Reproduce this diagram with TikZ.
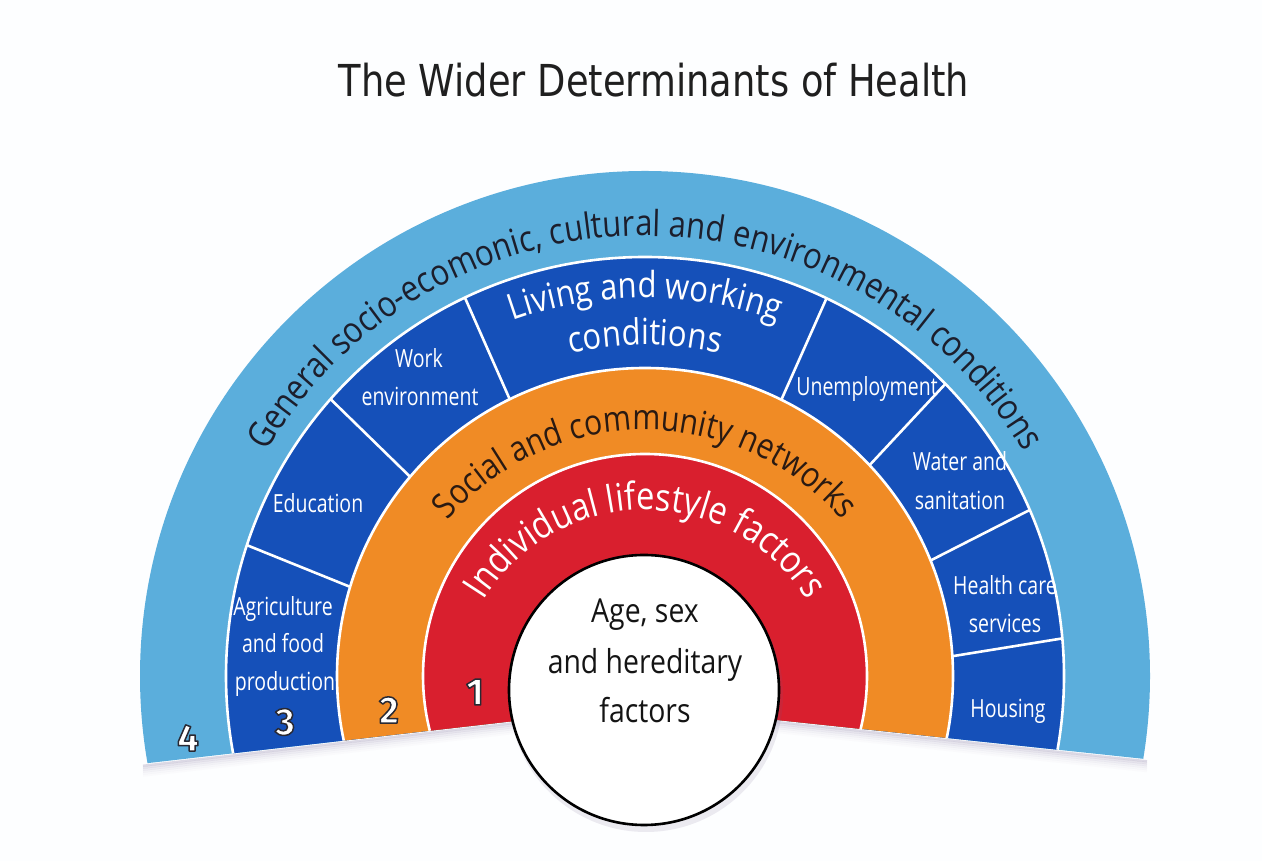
\documentclass[tikz,border=0pt]{standalone}
\usepackage{fontspec}
\setmainfont{Open Sans}
\newfontfamily\hfont[FakeStretch=0.86]{Open Sans}
\newfontfamily\cfont[FakeStretch=0.78]{Open Sans}
\newfontfamily\tfont{DejaVu Sans}
\newfontfamily\nfont{Fira Sans}
\usetikzlibrary{decorations.text}
\definecolor{bgc}{HTML}{FDFEFF}
\definecolor{lblue}{HTML}{5BAEDC}
\definecolor{dblue}{HTML}{1550B9}
\definecolor{orng}{HTML}{F08B25}
\definecolor{rd}{HTML}{D91F2E}
\definecolor{shadowc}{HTML}{6A5A8A}
\definecolor{darktext}{HTML}{1C1E2C}
\definecolor{browntext}{HTML}{2A1A12}
\tikzset{
  sep/.style={white, line width=2.6pt},
  seglabel/.style={text=white, font=\cfont\fontsize{25}{30}\selectfont, anchor=base, inner sep=0pt},
  corelabel/.style={text=black!92, font=\hfont\fontsize{33}{40}\selectfont, anchor=base, inner sep=0pt},
  numsty/.style={font=\nfont\bfseries\fontsize{38}{42}\selectfont, inner sep=0pt, text=white},
}
% white digit with a thin dark outline (fill, then stroke)
\newcommand{\outl}[1]{\special{pdf:literal direct q 2 Tr 1.5 w 1 j 0.16 0.16 0.2 RG}#1\special{pdf:literal direct Q}}
\begin{document}
\begin{tikzpicture}[x=1pt,y=1pt]
\fill[bgc] (0,0) rectangle (1262,861);
\useasboundingbox (0,0) rectangle (1262,861);

\node[font=\tfont\fontsize{44}{50}\selectfont, text=black!88, anchor=base, inner sep=0pt] (title) at (654,764)
  {\scalebox{0.837}[1]{The Wider Determinants of Health}};

\coordinate (C) at (645,185);
\coordinate (D) at (645,155);
\coordinate (BL) at (143,97.3);
\coordinate (BR) at (1147,101.8);
\coordinate (E) at (645,171);
\coordinate (F) at (645,161);
\coordinate (O) at (644,171);

% soft shadow under the bands
\foreach \s/\o in {2/0.22,4/0.16,6/0.11,8/0.07,10/0.04,12/0.02}
  \draw[line width=2.2pt, shadowc, opacity=\o] ([yshift=-\s pt]BL) -- ([yshift=-\s pt]D) -- ([yshift=-\s pt]BR);

\begin{scope}
  \clip (0,80.9) -- (D) -- (1262,89.6) -- (1262,861) -- (0,861) -- cycle;
  \fill[lblue] (C) circle (505pt);
  \fill[dblue] (C) circle (419pt);
  \begin{scope}
    \clip (C) circle (419pt);
    \foreach \a in {158,135.7,113.8,66,47,27,9.2}
      \draw[sep] (D) -- ++(\a:600pt);
  \end{scope}
  \fill[orng] (C) circle (308pt);
  \fill[rd] (C) circle (222pt);
  \draw[sep] (C) circle (419pt) (C) circle (308pt) (C) circle (222pt);
\end{scope}

% curved texts
\path[decorate, decoration={text along path, text align=center, text color=darktext,
  text={|\hfont\fontsize{36}{42}\selectfont|General socio-ecomonic, cultural and environmental conditions}}]
  ([shift={(178:440pt)}]C) arc[start angle=178, end angle=2, radius=440pt];
\path[decorate, decoration={text along path, text align=center, text color=white,
  text={|\hfont\fontsize{36}{42}\selectfont|Living and working}}]
  ([shift={(150:392pt)}]E) arc[start angle=150, end angle=30, radius=392pt];
\path[decorate, decoration={text along path, text align=center, text color=white,
  text={|\hfont\fontsize{36}{42}\selectfont|conditions}}]
  ([shift={(150:345pt)}]E) arc[start angle=150, end angle=30, radius=345pt];
\path[decorate, decoration={text along path, text align=center, text color=browntext,
  text={|\hfont\fontsize{35}{42}\selectfont|Social and community networks}}]
  ([shift={(175:260pt)}]E) arc[start angle=175, end angle=5, radius=260pt];
\path[decorate, decoration={text along path, text align=center, text color=white,
  text={|\hfont\fontsize{38}{44}\selectfont|Individual lifestyle factors}}]
  ([shift={(178:190pt)}]F) arc[start angle=178, end angle=2, radius=190pt];

% segment labels
\node[seglabel] (work1) at (419,493) {Work};
\node[seglabel] (work2) at (420,455) {environment};
\node[seglabel] (edu) at (318,348) {Education};
\node[seglabel] (agr1) at (283,245) {Agriculture};
\node[seglabel] (agr2) at (283,208) {and food};
\node[seglabel] (agr3) at (285,170) {production};
\node[seglabel] (unemp) at (867,465) {Unemployment};
\node[seglabel] (wat1) at (960,390) {Water and};
\node[seglabel] (wat2) at (960,351) {sanitation};
\node[seglabel] (hc1) at (1005,266) {Health care};
\node[seglabel] (hc2) at (1005,228) {services};
\node[seglabel] (hous) at (1008,143) {Housing};

% core circle
\fill[shadowc, opacity=0.12] (646,166) circle (137pt);
\node[circle, draw=black, line width=2.6pt, fill=white, minimum size=270pt, inner sep=0pt] (core) at (O) {};
\node[corelabel] (core1) at (645,238) {Age, sex};
\node[corelabel] (core2) at (645,187) {and hereditary};
\node[corelabel] (core3) at (645,138) {factors};

% ring numbers
\node[numsty] (n4) at (188,123) {\outl{4}};
\node[numsty] (n3) at (285,139) {\outl{3}};
\node[numsty] (n2) at (389,151) {\outl{2}};
\node[numsty] (n1) at (475,169) {\outl{1}};
\end{tikzpicture}
\end{document}
